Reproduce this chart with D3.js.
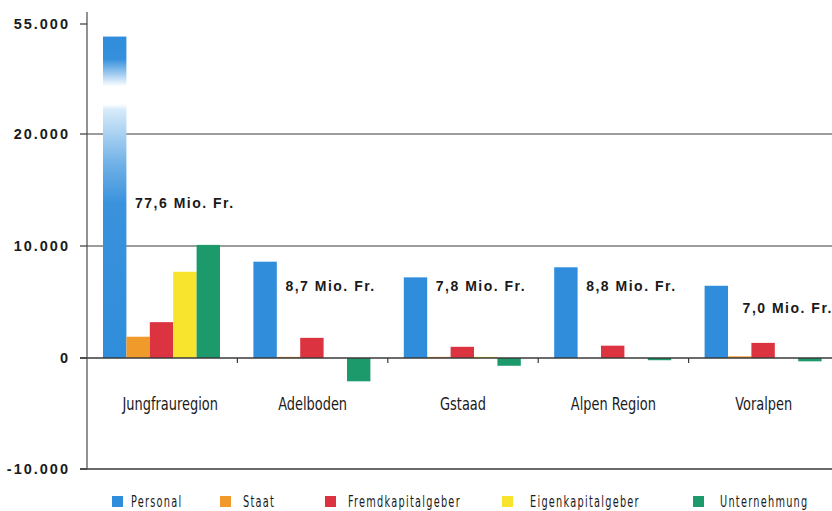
<!DOCTYPE html>
<html>
<head>
<meta charset="utf-8">
<script src="https://cdn.jsdelivr.net/npm/d3@7"></script>
<style>
  body { margin: 0; background: #ffffff; }
  svg { display: block; }
  .tick-label { font-family: "Liberation Sans", Arial, sans-serif; font-weight: bold; font-size: 14.5px; letter-spacing: 2px; fill: #1a1a1a; }
  .val-label { font-family: "Liberation Sans", Arial, sans-serif; font-weight: bold; font-size: 14px; letter-spacing: 1.5px; fill: #1a1a1a; }
  .cat-label { font-family: "DejaVu Sans Condensed", "Liberation Sans Narrow", sans-serif; font-stretch: condensed; font-size: 18px; fill: #1a1a1a; }
  .leg-label { font-family: "DejaVu Sans Condensed", "Liberation Sans Narrow", sans-serif; font-stretch: condensed; font-size: 15.5px; letter-spacing: 1.8px; fill: #1a1a1a; }
</style>
</head>
<body>
<div id="chart"></div>
<script>
// regions and series
var categories = ['Jungfrauregion', 'Adelboden', 'Gstaad', 'Alpen Region', 'Voralpen'];
var series = ['Personal', 'Staat', 'Fremdkapitalgeber', 'Eigenkapitalgeber', 'Unternehmung'];
var colors = ['#2f8ddb', '#f19a2c', '#db3440', '#f8e42c', '#1c9a6c'];

// values in 1000 Fr. per region, one array per series
var personal      = [51000, 8600, 7200, 8100, 6450];
var staat         = [1900, 100, 100, 0, 150];
var fremdkapital  = [3200, 1800, 1000, 1100, 1350];
var eigenkapital  = [7700, 0, 100, 0, 0];
var unternehmung  = [10100, -2100, -700, -200, -300];
var values = [personal, staat, fremdkapital, eigenkapital, unternehmung];

// totals written next to the bars, and the value level where each one sits
var totals = ['77,6 Mio. Fr.', '8,7 Mio. Fr.', '7,8 Mio. Fr.', '8,8 Mio. Fr.', '7,0 Mio. Fr.'];
var totalLevel = [13400, 6000, 6000, 6000, 4000];

// broken y axis: 20.000 -> 55.000 is squeezed
var yTicks = [55000, 20000, 10000, 0, -10000];
var yTickLabels = ['55.000', '20.000', '10.000', '0', '-10.000'];

var width = 832;
var height = 511;
var axis_x = 87;
var right = 839;

var svg = d3.select('#chart')
  .append('svg')
    .attr('width', width)
    .attr('height', height);

var y = d3.scaleLinear()
    .domain([-10000, 0, 20000, 55000])
    .range([469, 358, 134, 24]);

var x0 = d3.scaleBand()
    .domain(categories)
    .range([axis_x, right])
    .padding(0);

var x1 = d3.scaleBand()
    .domain(series)
    .range([16, 133])
    .padding(0);

// gradient for the broken bar
var defs = svg.append('defs');
var grad = defs.append('linearGradient')
    .attr('id', 'breakGrad')
    .attr('x1', 0).attr('y1', 0).attr('x2', 0).attr('y2', 1);
var stops = [
    [0, '#2f8ddb'], [0.07, '#3590dc'], [0.12, '#a9d0f2'], [0.155, '#ffffff'], [0.21, '#ffffff'],
    [0.228, '#d6eafa'], [0.4, '#6eb0e6'], [0.52, '#3a92dc'], [1, '#2f8ddb']
];
grad.selectAll('stop')
    .data(stops)
  .enter()
    .append('stop')
    .attr('offset', function(d) { return d[0]; })
    .attr('stop-color', function(d) { return d[1]; });

// horizontal grid lines
var gridVals = [20000, 10000];
svg.append('g')
    .selectAll('line.grid')
    .data(gridVals)
  .enter()
    .append('line')
    .attr('class', 'grid')
    .attr('x1', axis_x)
    .attr('x2', width)
    .attr('y1', function(d) { return y(d); })
    .attr('y2', function(d) { return y(d); })
    .attr('stroke', '#3a3a3a')
    .attr('stroke-width', 1.2);

// bars
for (var s = 0; s < series.length; s++) {
    svg.append('g')
        .selectAll('rect')
        .data(values[s])
      .enter()
        .append('rect')
        .attr('x', function(d, i) { return x0(categories[i]) + x1(series[s]); })
        .attr('width', x1.bandwidth())
        .attr('y', function(d) { return y(Math.max(0, d)); })
        .attr('height', function(d) { return Math.abs(y(d) - y(0)); })
        .attr('fill', function(d) {
            return (s == 0 && d > 20000) ? 'url(#breakGrad)' : colors[s];
        });
}

// zero line and bottom line
svg.append('g')
    .selectAll('line.base')
    .data([0, -10000])
  .enter()
    .append('line')
    .attr('x1', axis_x - 7)
    .attr('x2', width)
    .attr('y1', function(d) { return y(d); })
    .attr('y2', function(d) { return y(d); })
    .attr('stroke', '#3a3a3a')
    .attr('stroke-width', 1.3);

// y axis
svg.append('line')
    .attr('x1', axis_x).attr('x2', axis_x)
    .attr('y1', 12).attr('y2', y(-10000))
    .attr('stroke', '#4a4a4a')
    .attr('stroke-width', 1.2);

svg.append('g')
    .selectAll('line.ytick')
    .data(yTicks)
  .enter()
    .append('line')
    .attr('x1', axis_x - 7)
    .attr('x2', axis_x)
    .attr('y1', function(d) { return y(d); })
    .attr('y2', function(d) { return y(d); })
    .attr('stroke', '#3a3a3a')
    .attr('stroke-width', 1.2);

svg.append('g')
    .selectAll('text.tick-label')
    .data(yTicks)
  .enter()
    .append('text')
    .attr('class', 'tick-label')
    .attr('text-anchor', 'end')
    .attr('x', 70)
    .attr('y', function(d) { return y(d) + 5; })
    .text(function(d, i) { return yTickLabels[i]; });

// category ticks on the zero line
svg.append('g')
    .selectAll('line.ctick')
    .data(categories.slice(1))
  .enter()
    .append('line')
    .attr('x1', function(d) { return x0(d); })
    .attr('x2', function(d) { return x0(d); })
    .attr('y1', y(0))
    .attr('y2', y(0) + 5)
    .attr('stroke', '#3a3a3a')
    .attr('stroke-width', 1.2);

// category labels (squeezed to look like the condensed face)
svg.append('g')
    .selectAll('text.cat-label')
    .data(categories)
  .enter()
    .append('text')
    .attr('class', 'cat-label')
    .attr('text-anchor', 'middle')
    .attr('transform', function(d, i) {
        var cx = x0(d) + x0.bandwidth() / 2 + (i == 0 ? 8 : 0);
        return 'translate(' + cx + ',410) scale(0.8,1)';
    })
    .text(function(d) { return d; });

// totals
svg.append('g')
    .selectAll('text.val-label')
    .data(totals)
  .enter()
    .append('text')
    .attr('class', 'val-label')
    .attr('x', function(d, i) { return x0(categories[i]) + 48 + (i == 4 ? 6 : 0); })
    .attr('y', function(d, i) { return y(totalLevel[i]); })
    .text(function(d) { return d; });

// legend (kept low like the original, just high enough for the descenders)
var legX = [112, 220, 325, 502, 693];
var legTextDx = [19, 23, 23, 28, 27];
var leg = svg.append('g')
    .selectAll('g.legend')
    .data(series)
  .enter()
    .append('g')
    .attr('transform', function(d, i) { return 'translate(' + legX[i] + ',496)'; });

leg.append('rect')
    .attr('width', 11)
    .attr('height', 11)
    .attr('fill', function(d, i) { return colors[i]; });

leg.append('text')
    .attr('class', 'leg-label')
    .attr('transform', function(d, i) { return 'translate(' + legTextDx[i] + ',11) scale(0.7,1)'; })
    .text(function(d) { return d; });
</script>
</body>
</html>
